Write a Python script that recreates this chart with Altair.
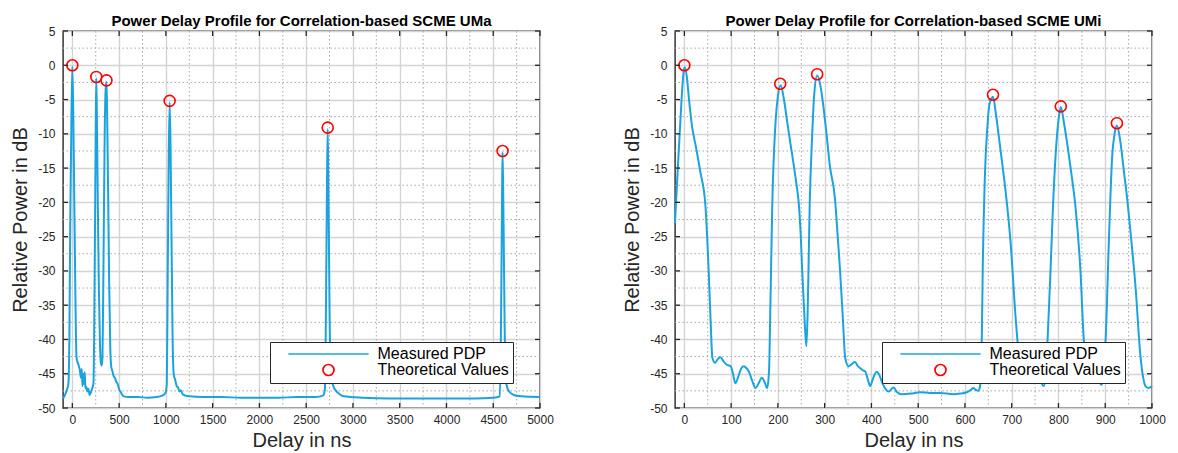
import altair as alt
import pandas as pd

# ---------------- data ----------------
series = ["Measured PDP", "Theoretical Values"]

# UMa measured PDP (delay ns, relative power dB)
uma_t = [-100, -85, -70, -55, -42, -32, -22, -10, 0, 10, 20, 32, 44, 55, 68, 80, 92, 100,
         108, 116, 124, 132, 140, 150, 160, 172, 184, 196, 206, 216, 226, 234, 242, 250,
         256, 263, 272, 284, 296, 306, 315, 322, 328, 336, 346, 356, 365, 372, 382, 394,
         406, 416, 428, 440, 455, 470, 485, 500, 515, 530, 550, 600, 700, 800, 900, 960,
         995, 1010, 1020, 1030, 1040, 1050, 1060, 1072, 1085, 1100, 1115, 1130, 1145, 1160,
         1180, 1210, 1250, 1400, 1600, 1800, 2000, 2200, 2400, 2600, 2680, 2700, 2712, 2722,
         2730, 2738, 2750, 2765, 2790, 2820, 2860, 2900, 3100, 3400, 3700, 4000, 4300, 4500,
         4570, 4585, 4595, 4600, 4608, 4622, 4640, 4670, 4720, 4800, 5000]
uma_v = [-48.6, -48.3, -47.8, -47.2, -46.4, -40, -22, -8, -0.2, -7, -19, -33, -42.5, -43.3,
         -43.8, -44.5, -45.6, -44.3, -46.8, -45.0, -46.5, -44.8, -47.2, -46.9, -47.6, -47.2,
         -48.1, -47.8, -47.4, -47.0, -46.3, -38, -24, -9, -1.9, -8, -20, -33, -41, -43.5,
         -43.8, -42.6, -36, -24, -10, -3.5, -2.4, -7, -18, -32, -41.5, -44.0, -44.6, -45.3,
         -45.6, -46.2, -46.5, -47.3, -47.6, -48.0, -48.3, -48.4, -48.4, -48.5, -48.4, -48.2,
         -47.8, -46.5, -30, -14, -5.4, -12, -25, -40, -45.2, -45.9, -46.8, -47.0, -47.6, -47.4,
         -48.0, -48.2, -48.3, -48.4, -48.4, -48.5, -48.5, -48.5, -48.4, -48.4, -48.2, -47.3,
         -35, -18, -9.3, -18, -36, -45.5, -46.8, -47.5, -48.0, -48.3, -48.5, -48.6, -48.6,
         -48.6, -48.6, -48.5, -48.3, -35, -18, -12.7, -20, -38, -46.5, -47.6, -48.1, -48.3, -48.4]
uma_peak_t = [0, 256, 365, 1040, 2730, 4600]
uma_peak_v = [0, -1.7, -2.2, -5.2, -9.1, -12.5]

# UMi measured PDP
umi_t = [-20, -14, -8, -3, 0, 5, 10, 16, 25, 34, 45, 52, 56, 60, 66, 71, 77, 84, 91, 99,
         104, 109, 115, 121, 127, 133, 138, 145, 152, 158, 166, 172, 177, 181, 184, 188, 195,
         200, 206, 213, 220, 227, 234, 240, 245, 249, 252, 257, 261, 264, 268, 273, 278, 284,
         291, 297, 304, 311, 322, 328, 333, 339, 344, 351, 358, 365, 371, 376, 382, 387, 393,
         397, 404, 411, 417, 422, 430, 437, 442, 447, 455, 465, 485, 504, 525, 547, 575, 590,
         604, 612, 618, 624, 629, 633, 636, 638, 643, 648, 652, 657, 660, 666, 673, 680, 687,
         698, 709, 715, 722, 730, 740, 750, 758, 763, 769, 774, 778, 783, 788, 794, 800, 805,
         812, 822, 829, 836, 847, 854, 860, 868, 876, 884, 890, 893, 897, 901, 908, 915, 920,
         925, 932, 940, 947, 954, 965, 975, 981, 986, 993, 1000]
umi_v = [-23, -15, -7.5, -2, -0.3, -1.5, -5, -8.7, -12, -15.5, -20.4, -30, -37, -42.7, -43.4,
         -42.9, -42.6, -43.2, -43.7, -43.9, -45, -46.4, -45.5, -44.3, -43.9, -44.2, -44.7, -46,
         -47.1, -46.5, -45.6, -46.3, -47.1, -44.7, -35, -20.4, -8.3, -4.5, -2.9, -5, -8.3,
         -11.5, -14.6, -17.5, -20.4, -25, -30, -37, -41, -35, -20.4, -10.7, -4, -1.5, -3, -5.8,
         -10, -14.6, -19.4, -25, -30, -37, -42.7, -43.9, -43.6, -43.3, -43.9, -44.2, -44.5,
         -44.7, -46, -46.8, -45.6, -44.7, -45.2, -46.1, -47.2, -47.6, -47.3, -47.0, -47.7, -48,
         -47.9, -47.7, -47.8, -47.8, -48, -47.9, -47.7, -47.4, -47.1, -47.4, -47.5, -46.5, -40,
         -30, -15.5, -9, -5.8, -4.8, -4.6, -7, -10.7, -14.5, -18.4, -26.2, -37.4, -42, -44.0,
         -44.8, -45.3, -45.6, -45.8, -46.3, -46.8, -44, -38, -30, -21, -13, -8, -6.1, -8.5,
         -13, -16.5, -20.4, -30, -39.8, -43.5, -44.8, -45.3, -45.8, -46.5, -46.6, -44, -39.8,
         -25.2, -13.1, -10, -8.8, -11, -15.5, -19.5, -24.3, -32.5, -42.2, -45.5, -46.8, -47.1,
         -46.8]
umi_peak_t = [0, 205, 284, 660, 805, 925]
umi_peak_v = [0, -2.7, -1.3, -4.3, -6.0, -8.45]

y_major = [5, 0, -5, -10, -15, -20, -25, -30, -35, -40, -45, -50]
y_minor = [2.5, -2.5, -7.5, -12.5, -17.5, -22.5, -27.5, -32.5, -37.5, -42.5, -47.5]
uma_x_major = [0, 500, 1000, 1500, 2000, 2500, 3000, 3500, 4000, 4500, 5000]
uma_x_minor = [250, 750, 1250, 1750, 2250, 2750, 3250, 3750, 4250, 4750]
umi_x_major = [0, 100, 200, 300, 400, 500, 600, 700, 800, 900, 1000]
umi_x_minor = [50, 150, 250, 350, 450, 550, 650, 750, 850, 950]

# ---------------- style ----------------
W, H = 477, 377
FONT = "Liberation Sans"
BLUE = "#1ba3de"
RED = "#ff0000"
DARK = "#262626"


def panel(title, t, v, pt, pv, xdom, xmaj, xmin):
    line_df = pd.DataFrame({"t": t, "v": v, "series": [series[0]] * len(t)})
    pt_df = pd.DataFrame({"t": pt, "v": pv, "series": [series[1]] * len(pt)})
    xs = alt.Scale(domain=xdom, nice=False, zero=False)
    ys = alt.Scale(domain=[-50, 5], nice=False, zero=False)
    xaxis = alt.Axis(values=xmaj, title="Delay in ns", grid=True, ticks=False, domain=False,
                     labelFlush=False, labelOverlap=False, labelPadding=6, titlePadding=5,
                     titleFontSize=20, format="d")
    yaxis = alt.Axis(values=y_major, title="Relative Power in dB", grid=True, ticks=False,
                     domain=False, labelFlush=False, labelOverlap=False, labelPadding=8,
                     titlePadding=7.5,
                     labelExpr="datum.value < 0 ? '-' + format(-datum.value, 'd') : format(datum.value, 'd')")
    leg = alt.Legend(title=None, orient="none", legendX=207, legendY=311, fillColor="white",
                     strokeColor=DARK, padding=4, labelFont=FONT, labelFontSize=16,
                     labelColor="black", symbolSize=121, symbolStrokeWidth=1.7,
                     symbolOffset=46.5, labelOffset=41, rowPadding=-3.5, cornerRadius=0)
    color = alt.Color("series:N", scale=alt.Scale(domain=series, range=[BLUE, RED]), legend=leg)
    shape = alt.Shape("series:N", scale=alt.Scale(domain=series, range=["M-7.3,0L7.3,0", "circle"]),
                      legend=leg)

    minor_x = alt.Chart(pd.DataFrame({"t": xmin})).mark_rule(
        color="#a8a8a8", strokeDash=[1.5, 2.5], strokeWidth=1).encode(
        x=alt.X("t:Q", scale=xs, axis=xaxis))
    minor_y = alt.Chart(pd.DataFrame({"v": y_minor})).mark_rule(
        color="#a8a8a8", strokeDash=[1.5, 2.5], strokeWidth=1).encode(
        y=alt.Y("v:Q", scale=ys, axis=yaxis))
    line = alt.Chart(line_df).mark_line(strokeWidth=2, interpolate="monotone").encode(
        x=alt.X("t:Q", scale=xs, axis=xaxis),
        y=alt.Y("v:Q", scale=ys, axis=yaxis),
        color=color,
        order="t:Q")
    pts = alt.Chart(pt_df).mark_point(filled=False, size=121, strokeWidth=1.6, opacity=1).encode(
        x=alt.X("t:Q", scale=xs, axis=xaxis),
        y=alt.Y("v:Q", scale=ys, axis=yaxis),
        color=color, shape=shape)

    xt = pd.DataFrame({"t": xmaj})
    yt = pd.DataFrame({"v": y_major})
    tick_style = dict(color=DARK, strokeWidth=1.3)
    tb = alt.Chart(xt).mark_rule(**tick_style).encode(
        x=alt.X("t:Q", scale=xs, axis=xaxis), y=alt.value(H - 5), y2=alt.value(H))
    tt = alt.Chart(xt).mark_rule(**tick_style).encode(
        x=alt.X("t:Q", scale=xs, axis=xaxis), y=alt.value(0), y2=alt.value(5))
    tl = alt.Chart(yt).mark_rule(**tick_style).encode(
        y=alt.Y("v:Q", scale=ys, axis=yaxis), x=alt.value(0), x2=alt.value(5))
    tr = alt.Chart(yt).mark_rule(**tick_style).encode(
        y=alt.Y("v:Q", scale=ys, axis=yaxis), x=alt.value(W - 5), x2=alt.value(W))

    return alt.layer(minor_x, minor_y, line, pts, tb, tt, tl, tr).properties(
        width=W, height=H, title=title)


left = panel("Power Delay Profile for Correlation-based SCME UMa", uma_t, uma_v,
             uma_peak_t, uma_peak_v, [-100, 5000], uma_x_major, uma_x_minor)
right = panel("Power Delay Profile for Correlation-based SCME UMi", umi_t, umi_v,
              umi_peak_t, umi_peak_v, [-20, 1000], umi_x_major, umi_x_minor)

chart = alt.hconcat(left, right, spacing=66).resolve_scale(
    color="independent", shape="independent"
).resolve_legend(
    color="independent", shape="independent"
).properties(
    padding={"left": 1, "top": 4, "right": 0, "bottom": 0},
    background="white",
).configure_view(
    stroke=DARK, strokeWidth=1.4
).configure_axis(
    gridColor="#d4d4d4", gridWidth=1.4, gridOpacity=1,
    labelFont=FONT, labelFontSize=12, labelColor=DARK,
    titleFont=FONT, titleFontSize=20, titleFontWeight="normal", titleColor=DARK,
).configure_title(
    font=FONT, fontSize=15, fontWeight="bold", color="black", offset=-3.5, anchor="middle"
)

chart.save("out.html", embed_options={"renderer": "svg", "actions": False})
